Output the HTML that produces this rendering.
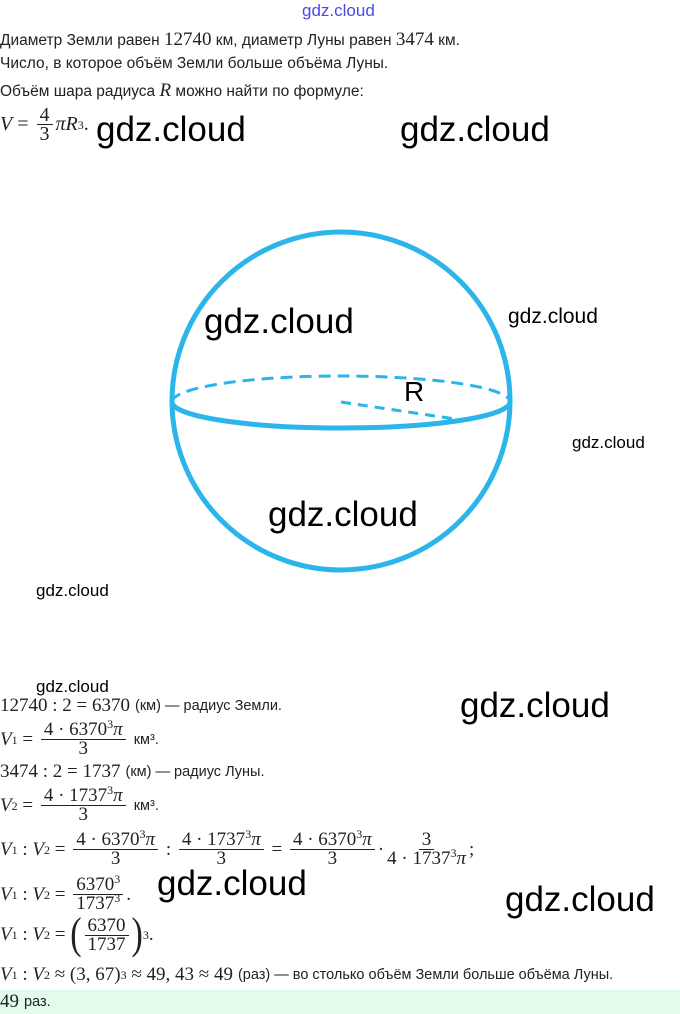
<!DOCTYPE html>
<html><head><meta charset="utf-8"><style>
body{margin:0;width:680px;height:1014px;background:#fff;position:relative;overflow:hidden;font-family:"Liberation Sans","DejaVu Sans",sans-serif;color:#222}
.a{position:absolute;white-space:nowrap}
.t{font-size:15.5px}
.m{font-family:"Liberation Serif",serif;font-size:19px}
.i{font-style:italic}
.w{position:absolute;font-family:"Liberation Sans",sans-serif;color:#000;white-space:nowrap;letter-spacing:0px}
.f{display:inline-flex;flex-direction:column;align-items:center;vertical-align:middle;margin:0 3px}
.f>span:first-child{border-bottom:1px solid #222;padding:0 3px;line-height:18px}
.f>span:last-child{line-height:18px}
sup{font-size:12px;vertical-align:7px;line-height:0}
sub{font-size:12px;vertical-align:-4px;line-height:0}
.row{position:absolute;left:0;display:flex;align-items:center;white-space:nowrap}
.s{font-family:"Liberation Sans",sans-serif;font-size:14.5px;margin-left:5px}
</style></head><body>
<div class="a" style="left:302px;top:1px;font-size:17px;color:#4a4ae8">gdz.cloud</div>
<div class="a t" style="left:0;top:29px">Диаметр Земли равен <span class="m">12740</span> км, диаметр Луны равен <span class="m">3474</span> км.</div>
<div class="a t" style="left:0;top:55px">Число, в которое объём Земли больше объёма Луны.</div>
<div class="a t" style="left:0;top:80px">Объём шара радиуса <span class="m i">R</span> можно найти по формуле:</div>
<div class="row m" style="top:106px;font-size:20px"><span class="i">V</span>&nbsp;=&nbsp;<span class="f"><span style="border:0;border-bottom:1px solid #222">4</span><span>3</span></span><span class="i">πR</span><sup>3</sup>.</div>

<div class="w" style="left:96px;top:110px;font-size:35px">gdz.cloud</div>
<div class="w" style="left:400px;top:110px;font-size:35px">gdz.cloud</div>

<svg class="a" style="left:0;top:0" width="680" height="700">
<circle cx="341" cy="401" r="169" fill="none" stroke="#2cb5ea" stroke-width="5"/>
<path d="M172 402 A169 26 0 0 1 510 402" fill="none" stroke="#2cb5ea" stroke-width="3" stroke-dasharray="12 7"/>
<path d="M172 402 A169 26 0 0 0 510 402" fill="none" stroke="#2cb5ea" stroke-width="5"/>
<line x1="341" y1="402" x2="455" y2="419" stroke="#2cb5ea" stroke-width="3" stroke-dasharray="10 7"/>
</svg>
<div class="w" style="left:404px;top:376px;font-size:28px">R</div>

<div class="w" style="left:204px;top:302px;font-size:35px">gdz.cloud</div>
<div class="w" style="left:508px;top:305px;font-size:21px">gdz.cloud</div>
<div class="w" style="left:572px;top:433px;font-size:17px">gdz.cloud</div>
<div class="w" style="left:268px;top:495px;font-size:35px">gdz.cloud</div>
<div class="w" style="left:36px;top:581px;font-size:17px">gdz.cloud</div>
<div class="w" style="left:36px;top:677px;font-size:17px">gdz.cloud</div>

<div class="row m" style="top:695px">12740&nbsp;:&nbsp;2&nbsp;=&nbsp;6370<span class="s">(км) — радиус Земли.</span></div>
<div class="row m" style="top:721px"><span class="i">V</span><sub>1</sub>&nbsp;=&nbsp;<span class="f"><span>4 · 6370<sup>3</sup><i>π</i></span><span>3</span></span><span class="s">км³.</span></div>
<div class="row m" style="top:761px">3474&nbsp;:&nbsp;2&nbsp;=&nbsp;1737<span class="s">(км) — радиус Луны.</span></div>
<div class="row m" style="top:787px"><span class="i">V</span><sub>2</sub>&nbsp;=&nbsp;<span class="f"><span>4 · 1737<sup>3</sup><i>π</i></span><span>3</span></span><span class="s">км³.</span></div>
<div class="row m" style="top:831px"><span class="i">V</span><sub>1</sub>&nbsp;:&nbsp;<span class="i">V</span><sub>2</sub>&nbsp;=&nbsp;<span class="f"><span>4 · 6370<sup>3</sup><i>π</i></span><span>3</span></span>&nbsp;:&nbsp;<span class="f"><span>4 · 1737<sup>3</sup><i>π</i></span><span>3</span></span>&nbsp;=&nbsp;<span class="f"><span>4 · 6370<sup>3</sup><i>π</i></span><span>3</span></span>·<span class="f"><span>3</span><span>4 · 1737<sup>3</sup><i>π</i></span></span>;</div>
<div class="row m" style="top:876px"><span class="i">V</span><sub>1</sub>&nbsp;:&nbsp;<span class="i">V</span><sub>2</sub>&nbsp;=&nbsp;<span class="f"><span>6370<sup>3</sup></span><span>1737<sup>3</sup></span></span>.</div>
<div class="row m" style="top:916px"><span class="i">V</span><sub>1</sub>&nbsp;:&nbsp;<span class="i">V</span><sub>2</sub>&nbsp;=&nbsp;<span style="font-size:34px;transform:scaleY(1.3);display:inline-block">(</span><span class="f"><span>6370</span><span>1737</span></span><span style="font-size:34px;transform:scaleY(1.3);display:inline-block">)</span><sup style="vertical-align:20px">3</sup>.</div>
<div class="row m" style="top:964px"><span class="i">V</span><sub>1</sub>&nbsp;:&nbsp;<span class="i">V</span><sub>2</sub>&nbsp;≈&nbsp;(3,&nbsp;67)<sup>3</sup>&nbsp;≈&nbsp;49,&nbsp;43&nbsp;≈&nbsp;49<span class="s">(раз) — во столько объём Земли больше объёма Луны.</span></div>
<div class="a" style="left:0;top:990px;width:680px;height:24px;background:#e2fbeb"></div>
<div class="row m" style="top:991px">49<span class="s">раз.</span></div>

<div class="w" style="left:460px;top:686px;font-size:35px">gdz.cloud</div>
<div class="w" style="left:157px;top:864px;font-size:35px">gdz.cloud</div>
<div class="w" style="left:505px;top:880px;font-size:35px">gdz.cloud</div>
</body></html>
